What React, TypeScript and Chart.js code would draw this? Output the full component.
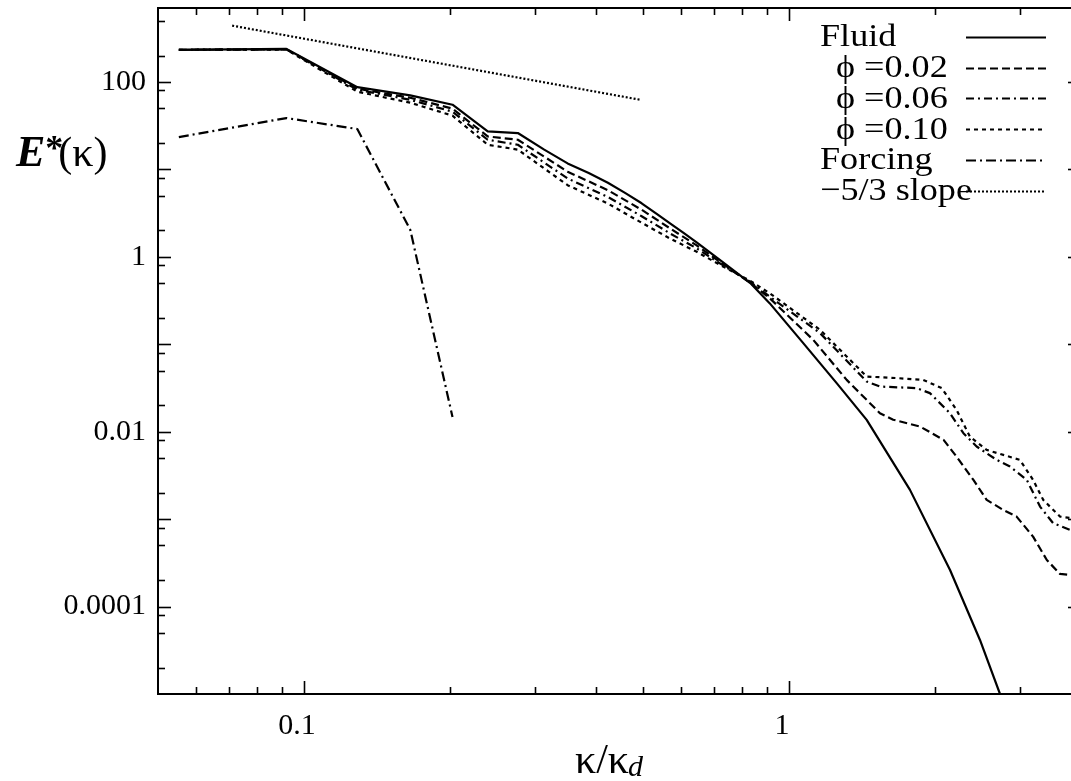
import React, { useEffect, useRef } from 'react';
import { Chart, registerables } from 'chart.js';

Chart.register(...registerables);

// ---------- data ----------
const kFluid = [0.0552, 0.092, 0.1288, 0.1656, 0.2024, 0.2392, 0.276, 0.3128, 0.3496, 0.3864, 0.4232, 0.46, 0.4968, 0.5336, 0.5704, 0.6072, 0.644, 0.72, 0.832, 0.912, 1.07, 1.254, 1.446, 1.776, 2.148, 2.476, 2.723, 2.85];
const eFluid = [233, 238, 87, 70, 54.8, 27.2, 26, 16.8, 11.7, 9.09, 7.03, 5.34, 4.09, 3.1, 2.38, 1.86, 1.47, 0.92, 0.5, 0.295, 0.103, 0.0359, 0.01365, 0.00216, 2.62e-4, 4.15e-5, 1.0e-5, 5e-6];

const kPhi02 = [0.0552, 0.092, 0.1288, 0.1656, 0.2024, 0.2392, 0.276, 0.3496, 0.4232, 0.4968, 0.5704, 0.644, 0.72, 0.832, 0.912, 1.122, 1.315, 1.54, 1.64, 1.863, 2.083, 2.215, 2.4, 2.556, 2.765, 2.946, 3.186, 3.401, 3.62, 3.8, 3.95];
const ePhi02 = [233, 236, 83.6, 65.9, 49.4, 23.8, 21.8, 9.4, 5.77, 3.45, 2.085, 1.36, 0.877, 0.504, 0.337, 0.1122, 0.0391, 0.01627, 0.0137, 0.01144, 0.00805, 0.00519, 0.00281, 0.00166, 0.001274, 0.001069, 6.31e-4, 3.41e-4, 2.36e-4, 2.3e-4, 2.25e-4];

const kPhi06 = [0.0552, 0.092, 0.1288, 0.1656, 0.2024, 0.2392, 0.276, 0.3496, 0.4232, 0.4968, 0.5704, 0.644, 0.72, 0.832, 0.912, 1.159, 1.446, 1.54, 1.833, 1.952, 2.146, 2.289, 2.437, 2.68, 2.855, 3.092, 3.293, 3.505, 3.8, 3.95];
const ePhi06 = [233, 235, 81.4, 62.5, 45.6, 21.8, 19.1, 7.87, 4.83, 2.91, 1.83, 1.257, 0.843, 0.518, 0.351, 0.134, 0.0374, 0.0328, 0.0315, 0.0276, 0.0163, 0.00961, 0.00676, 0.00476, 0.00399, 0.00281, 0.00139, 8.97e-4, 7.52e-4, 7.3e-4];

const kPhi10 = [0.0552, 0.092, 0.1288, 0.1656, 0.2024, 0.2392, 0.276, 0.3496, 0.4232, 0.4968, 0.5704, 0.644, 0.72, 0.832, 0.912, 1.159, 1.446, 1.667, 1.891, 2.065, 2.215, 2.36, 2.556, 2.992, 3.186, 3.343, 3.62, 3.8, 3.95];
const ePhi10 = [233, 234, 77.3, 57.8, 41.1, 19.1, 16.8, 6.59, 4.06, 2.45, 1.6, 1.147, 0.81, 0.53, 0.384, 0.146, 0.0427, 0.041, 0.0391, 0.0315, 0.0178, 0.00879, 0.00619, 0.00476, 0.00281, 0.00166, 0.00107, 0.00103, 0.001];

const kForcing = [0.0552, 0.092, 0.1288, 0.1656, 0.2024];
const eForcing = [23.4, 38.6, 28.9, 2.04, 0.0147];

const kSlope = [0.0711, 0.493];
const eSlope = [440, 62.5];

const legendLabels = ['Fluid', 'ϕ =0.02', 'ϕ =0.06', 'ϕ =0.10', 'Forcing', '−5/3 slope'];

const xLabelTicks = [0.1, 1];
const xMinorTicks = [0.06, 0.07, 0.08, 0.09, 0.2, 0.3, 0.4, 0.5, 0.6, 0.7, 0.8, 0.9, 2, 3];
const yLabelTicks = [100, 1, 0.01, 0.0001];
const yMajorTicks = [1e-4, 1e-3, 1e-2, 1e-1, 1, 10, 100];
const yMinorTicks = [2e-5, 5e-5, 8e-5, 2e-4, 5e-4, 8e-4, 2e-3, 5e-3, 8e-3, 0.02, 0.05, 0.08, 0.2, 0.5, 0.8, 2, 5, 8, 20, 50, 80, 200, 500];

const X_MIN = 0.05;
const X_MAX = 4;
const Y_MIN = 1e-5;
const Y_MAX = 700;

// ---------- styles ----------
const DASH_FLUID: number[] = [];
const DASH_02 = [8, 4];
const DASH_06 = [8, 4, 2, 4];
const DASH_10 = [4, 4];
const DASH_FORCING = [10, 4, 2, 4];
const DASH_SLOPE = [2, 2];
const legendDashes = [DASH_FLUID, DASH_02, DASH_06, DASH_10, DASH_FORCING, DASH_SLOPE];

const SERIF = '"Liberation Serif", "Times New Roman", serif';

const toPts = (k: number[], e: number[]) => k.map((kv, i) => ({ x: kv, y: e[i] }));

const ds = (label: string, k: number[], e: number[], dash: number[], width = 2.2) => ({
  label,
  data: toPts(k, e),
  borderColor: '#000',
  backgroundColor: '#000',
  borderWidth: width,
  borderDash: dash,
  borderCapStyle: 'butt' as const,
  borderJoinStyle: 'round' as const,
  pointRadius: 0,
  fill: false,
  tension: 0,
});

const decorPlugin = {
  id: 'decor',
  afterDraw(chart: any) {
    const { ctx, chartArea: a } = chart;
    const x = chart.scales.x;
    const y = chart.scales.y;
    ctx.save();
    ctx.setLineDash([]);
    ctx.strokeStyle = '#000';
    ctx.fillStyle = '#000';

    // frame
    ctx.lineWidth = 2;
    ctx.strokeRect(a.left, a.top, a.right - a.left, a.bottom - a.top);

    // ticks
    ctx.lineWidth = 1.6;
    const seg = (x1: number, y1: number, x2: number, y2: number) => {
      ctx.beginPath();
      ctx.moveTo(x1, y1);
      ctx.lineTo(x2, y2);
      ctx.stroke();
    };
    const MAJ = 13;
    const MIN = 7;
    xLabelTicks.forEach((v) => {
      const p = Math.round(x.getPixelForValue(v)) + 0.5;
      seg(p, a.bottom, p, a.bottom - MAJ);
      seg(p, a.top, p, a.top + MAJ);
    });
    xMinorTicks.forEach((v) => {
      const p = Math.round(x.getPixelForValue(v)) + 0.5;
      seg(p, a.bottom, p, a.bottom - MIN);
      seg(p, a.top, p, a.top + MIN);
    });
    yMajorTicks.forEach((v) => {
      const p = Math.round(y.getPixelForValue(v)) + 0.5;
      seg(a.left, p, a.left + MAJ, p);
      seg(a.right, p, a.right - MAJ, p);
    });
    yMinorTicks.forEach((v) => {
      const p = Math.round(y.getPixelForValue(v)) + 0.5;
      seg(a.left, p, a.left + MIN, p);
      seg(a.right, p, a.right - MIN, p);
    });

    // y title: E*(κ)
    ctx.textBaseline = 'alphabetic';
    ctx.textAlign = 'left';
    let tx = 16;
    const ty = 166;
    ctx.font = `italic bold 44px ${SERIF}`;
    ctx.fillText('E', tx, ty);
    tx += ctx.measureText('E').width;
    ctx.font = `bold 36px ${SERIF}`;
    ctx.fillText('*', tx, ty - 6);
    tx += ctx.measureText('*').width - 5;
    ctx.font = `42px ${SERIF}`;
    ctx.fillText('(κ)', tx, ty);

    // x title: κ/κd
    ctx.font = `42px ${SERIF}`;
    const main = 'κ/κ';
    const mw = ctx.measureText(main).width;
    ctx.font = `italic 30px ${SERIF}`;
    const dw = ctx.measureText('d').width;
    const cx = (a.left + a.right) / 2 - 10;
    const sx = cx - (mw + dw) / 2;
    ctx.font = `42px ${SERIF}`;
    ctx.fillText(main, sx, 773);
    ctx.font = `italic 30px ${SERIF}`;
    ctx.fillText('d', sx + mw - 1, 776);

    // legend
    const rowY0 = 37;
    const rowH = 30.7;
    ctx.textBaseline = 'middle';
    legendLabels.forEach((lab, i) => {
      const yy = rowY0 + i * rowH;
      const indent = lab.startsWith('ϕ') ? 16 : 0;
      ctx.save();
      ctx.translate(820 + indent, yy + 1);
      ctx.scale(1.13, 1);
      ctx.font = `32px ${SERIF}`;
      ctx.fillText(lab, 0, 0);
      ctx.restore();
      ctx.lineWidth = 2;
      ctx.setLineDash(legendDashes[i]);
      seg(966, Math.round(yy) + 0.5, 1046, Math.round(yy) + 0.5);
      ctx.setLineDash([]);
    });

    ctx.restore();
  },
};

export default function App() {
  const ref = useRef<HTMLCanvasElement>(null);

  useEffect(() => {
    const canvas = ref.current;
    if (!canvas) return;
    const chart = new Chart(canvas, {
      type: 'line',
      data: {
        datasets: [
          ds('Forcing', kForcing, eForcing, DASH_FORCING),
          ds('-5/3 slope', kSlope, eSlope, DASH_SLOPE),
          ds('phi=0.10', kPhi10, ePhi10, DASH_10),
          ds('phi=0.06', kPhi06, ePhi06, DASH_06),
          ds('phi=0.02', kPhi02, ePhi02, DASH_02),
          ds('Fluid', kFluid, eFluid, DASH_FLUID),
        ],
      },
      options: {
        responsive: false,
        animation: false,
        devicePixelRatio: 1,
        layout: { padding: { left: 0, right: 19, top: 8, bottom: 0 } },
        plugins: { legend: { display: false }, tooltip: { enabled: false } },
        scales: {
          x: {
            type: 'logarithmic',
            min: X_MIN,
            max: X_MAX,
            afterBuildTicks: (s: any) => {
              s.ticks = xLabelTicks.map((v) => ({ value: v }));
            },
            afterFit: (s: any) => {
              s.height = 87;
              s.paddingLeft = 0;
              s.paddingRight = 0;
            },
            grid: { display: false, drawTicks: false },
            border: { display: false },
            ticks: {
              autoSkip: false,
              maxRotation: 0,
              minRotation: 0,
              padding: 14,
              labelOffset: -7,
              color: '#000',
              font: { family: SERIF, size: 30 },
              callback: (v: any) => String(v),
            },
          },
          y: {
            type: 'logarithmic',
            min: Y_MIN,
            max: Y_MAX,
            afterBuildTicks: (s: any) => {
              s.ticks = yLabelTicks.map((v) => ({ value: v }));
            },
            afterFit: (s: any) => {
              s.width = 158;
              s.paddingTop = 0;
              s.paddingBottom = 0;
            },
            grid: { display: false, drawTicks: false },
            border: { display: false },
            ticks: {
              autoSkip: false,
              padding: 12,
              color: '#000',
              font: { family: SERIF, size: 30 },
              callback: (v: any) => String(v),
            },
          },
        },
      } as any,
      plugins: [decorPlugin],
    });
    return () => chart.destroy();
  }, []);

  return (
    <div
      style={{
        position: 'fixed',
        left: 0,
        top: 0,
        width: '100vw',
        height: '100vh',
        overflow: 'hidden',
        background: '#fff',
      }}
    >
      <canvas ref={ref} width={1100} height={781} style={{ display: 'block', width: 1100, height: 781 }} />
    </div>
  );
}
